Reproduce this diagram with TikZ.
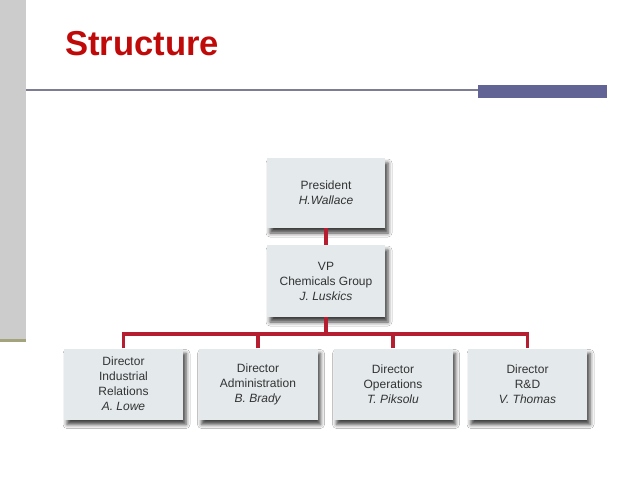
\documentclass[tikz,border=0pt]{standalone}
\usepackage{fontspec}
\setmainfont{Liberation Sans}
\usetikzlibrary{shadows.blur}
\definecolor{titlered}{HTML}{C00A0A}
\definecolor{sidegray}{HTML}{CCCCCC}
\definecolor{olive}{HTML}{A3A47C}
\definecolor{rulegray}{HTML}{7C7D92}
\definecolor{barblue}{HTML}{636496}
\definecolor{boxfill}{HTML}{E4E9EC}
\definecolor{conred}{HTML}{B51E30}
\definecolor{boxtext}{HTML}{333333}
\tikzset{
  orgbox/.style={fill=boxfill, draw=none, minimum width=119pt, minimum height=71pt,
    inner sep=0pt, align=center, text=boxtext,
    font=\fontsize{12}{15}\selectfont,
    blur shadow={shadow xshift=3pt, shadow yshift=-5pt, shadow blur radius=4pt, shadow opacity=75}},
  conline/.style={draw=conred, line width=3.6pt}
}
\begin{document}
\begin{tikzpicture}[x=1pt,y=-1pt]
\useasboundingbox (0,0) rectangle (638,479);
\fill[white] (0,0) rectangle (638,479);
% side bar
\fill[sidegray] (0,0) rectangle (26,339);
\fill[olive] (0,339) rectangle (26,341.5);
% header rule and bar
\draw[rulegray, line width=1.4pt] (26,90) -- (478,90);
\fill[barblue] (478,85) rectangle (607,98);
% title
\node[anchor=base west, inner sep=0pt, text=titlered, font=\fontsize{34.6}{40}\selectfont\bfseries] (title) at (65,55) {Structure};
% boxes
\node[orgbox, minimum width=118pt, minimum height=70pt] (pres) at (326,193) {President\\\textit{H.Wallace}};
\node[orgbox, minimum width=118pt, minimum height=72pt] (vp) at (326,281) {VP\\Chemicals Group\\\textit{J. Luskics}};
\node[orgbox] (d1) at (123.5,384) {Director\\Industrial\\Relations\\\textit{A. Lowe}};
\node[orgbox] (d2) at (258,384) {Director\\Administration\\\textit{B. Brady}};
\node[orgbox] (d3) at (393,384) {Director\\Operations\\\textit{T. Piksolu}};
\node[orgbox] (d4) at (527.5,384) {Director\\R\&D\\\textit{V. Thomas}};
% connectors
\coordinate (bus) at (326,334);
\draw[conline] (pres.south) -- (vp.north);
\draw[conline] (vp.south) -- (bus);
\draw[conline] (d1.north) |- (bus) -| (d4.north);
\draw[conline] (d2.north) -- (d2.north |- bus);
\draw[conline] (d3.north) -- (d3.north |- bus);
\end{tikzpicture}
\end{document}
